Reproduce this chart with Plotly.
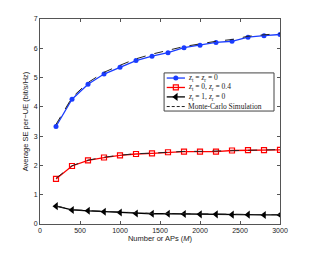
import plotly.graph_objects as go

M = [200, 400, 600, 800, 1000, 1200, 1400, 1600, 1800, 2000, 2200, 2400, 2600, 2800, 3000]
blue = [3.33, 4.26, 4.77, 5.12, 5.35, 5.58, 5.73, 5.85, 6.02, 6.10, 6.20, 6.24, 6.38, 6.43, 6.47]
blue_mc = [3.40, 4.32, 4.83, 5.18, 5.42, 5.64, 5.80, 5.93, 6.06, 6.15, 6.24, 6.30, 6.41, 6.46, 6.50]
red = [1.54, 1.98, 2.17, 2.27, 2.34, 2.39, 2.41, 2.45, 2.47, 2.47, 2.47, 2.51, 2.52, 2.52, 2.53]
red_mc = [1.56, 1.99, 2.18, 2.28, 2.35, 2.40, 2.42, 2.46, 2.48, 2.48, 2.49, 2.52, 2.53, 2.53, 2.54]
black = [0.61, 0.48, 0.45, 0.42, 0.39, 0.36, 0.35, 0.35, 0.34, 0.33, 0.33, 0.32, 0.32, 0.31, 0.31]
black_mc = [0.62, 0.49, 0.46, 0.43, 0.40, 0.37, 0.36, 0.36, 0.35, 0.34, 0.34, 0.33, 0.33, 0.32, 0.32]

names = ["<i>z</i><sub>t</sub> = <i>z</i><sub>r</sub> = 0",
         "<i>z</i><sub>t</sub> = 0, <i>z</i><sub>r</sub> = 0.4",
         "<i>z</i><sub>t</sub> = 1, <i>z</i><sub>r</sub> = 0",
         "Monte-Carlo Simulation"]

BLUE, RED, BLACK, DASH = "#1a3cff", "#ff0000", "#000000", "#222222"
styles = [
    dict(line=dict(color=BLUE, width=1.3), marker=dict(symbol="circle", size=5, color=BLUE)),
    dict(line=dict(color=RED, width=1.3), marker=dict(symbol="square-open", size=5, color=RED, line=dict(width=1.2))),
    dict(line=dict(color=BLACK, width=1.3), marker=dict(symbol="triangle-left", size=7, color=BLACK)),
]

fig = go.Figure()
for ys, st, nm in zip((blue, red, black), styles, names[:3]):
    fig.add_trace(go.Scatter(x=M, y=ys, mode="lines+markers", name=nm, showlegend=False, **st))
for ys in (blue_mc, red_mc, black_mc):
    fig.add_trace(go.Scatter(x=M, y=ys, mode="lines", showlegend=False,
                             line=dict(color=DASH, width=1, dash="dash")))

# manual legend on an overlay axis (0..1 over the plot area)
lx0, lx1 = 0.517, 0.975
ly1, ly0 = 0.737, 0.551
rows = [0.712, 0.666, 0.620, 0.573]
sx0, sx1, sxm, tx = 0.528, 0.604, 0.566, 0.608
fig.add_shape(type="rect", xref="x2", yref="y2", x0=lx0, x1=lx1, y0=ly0, y1=ly1,
              line=dict(color="#444444", width=1), fillcolor="white", layer="below")
for i in range(3):
    st = styles[i]
    fig.add_trace(go.Scatter(x=[sx0, sx1], y=[rows[i], rows[i]], mode="lines", xaxis="x2", yaxis="y2",
                             showlegend=False, hoverinfo="skip", line=st["line"]))
    fig.add_trace(go.Scatter(x=[sxm], y=[rows[i]], mode="markers", xaxis="x2", yaxis="y2",
                             showlegend=False, hoverinfo="skip", marker=st["marker"]))
fig.add_trace(go.Scatter(x=[sx0, sx1], y=[rows[3], rows[3]], mode="lines", xaxis="x2", yaxis="y2",
                         showlegend=False, hoverinfo="skip", line=dict(color=DASH, width=1, dash="3px,2px")))
for i, nm in enumerate(names):
    fig.add_annotation(xref="x2", yref="y2", x=tx, y=rows[i], text=nm, showarrow=False,
                       xanchor="left", yanchor="middle",
                       font=dict(family="Liberation Serif", size=7.5, color="#222222"))

axis_common = dict(showgrid=False, zeroline=False, showline=True, linecolor="#555555",
                   linewidth=1, mirror="ticks", ticks="inside", ticklen=3, automargin=False,
                   tickcolor="#555555", tickfont=dict(family="Liberation Sans", size=7, color="#222222"))
fig.update_xaxes(range=[0, 3000], tickvals=[0, 500, 1000, 1500, 2000, 2500, 3000],
                 title=dict(text="Number or APs (<i>M</i>)", standoff=2,
                            font=dict(family="Liberation Sans", size=7.5, color="#222222")),
                 **axis_common)
fig.update_yaxes(range=[0, 7], tickvals=list(range(8)),
                 title=dict(text="Average SE per\u2212UE (bit/s/Hz)", standoff=4,
                            font=dict(family="Liberation Sans", size=7.5, color="#222222")),
                 **axis_common)
# page body has an 8px default margin; compensate so the plot area sits at x 40-280, y 19-224
fig.update_layout(
    width=310, height=253, margin=dict(l=32, r=38, t=11, b=37),
    plot_bgcolor="white", paper_bgcolor="white", showlegend=False,
    xaxis2=dict(overlaying="x", range=[0, 1], visible=False, fixedrange=True),
    yaxis2=dict(overlaying="y", range=[0, 1], visible=False, fixedrange=True),
)
fig.write_html("out.html")
